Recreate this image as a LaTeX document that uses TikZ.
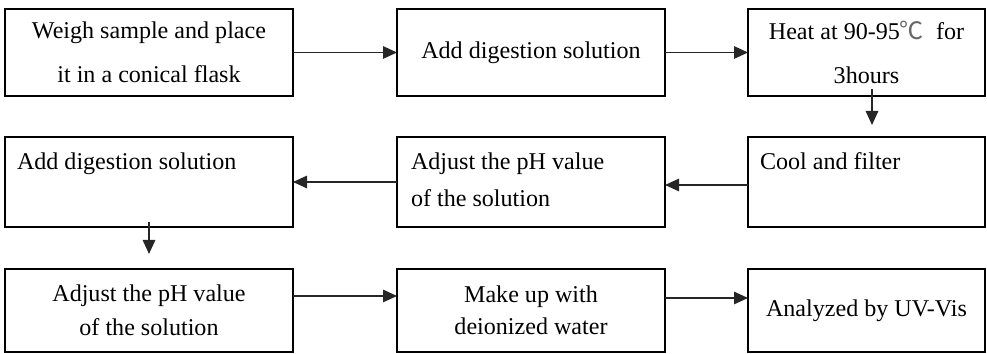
\documentclass[tikz,border=0pt]{standalone}
\usepackage{fontspec}
\setmainfont{Liberation Serif}
\newfontfamily\cjkfont{Noto Sans CJK SC}
\usetikzlibrary{arrows.meta}
\begin{document}
\begin{tikzpicture}[inner sep=0pt,outer sep=0pt,
>={Triangle[length=0.28cm,width=0.25cm]},
stepbox/.style={draw,rectangle,line width=1.1pt,align=center,font=\fontsize{13.7}{18}\selectfont},
toptext/.style={anchor=north west,inner sep=0pt,align=left,font=\fontsize{13.7}{18}\selectfont},
flow/.style={->,line width=0.8pt,black!85}]
\useasboundingbox (0,0) rectangle (19.74,-7.08);
% first row
\draw (2.98,-1.05) node[stepbox,minimum width=5.76cm,minimum height=1.74cm] (weigh) {Weigh sample and place\\[7pt]it in a conical flask};
\draw (10.62,-1.05) node[stepbox,minimum width=5.36cm,minimum height=1.74cm] (digest) {Add digestion solution};
\draw (17.33,-1.05) node[stepbox,minimum width=4.74cm,minimum height=1.74cm] (heat) {Heat at 90-95{\cjkfont\color{black!60}℃}\ \ for\\[7pt]3hours};
% second row
\draw (17.33,-3.64) node[stepbox,minimum width=4.74cm,minimum height=1.80cm] (cool) {};
\draw (10.62,-3.64) node[stepbox,minimum width=5.36cm,minimum height=1.80cm] (adjust) {};
\draw (2.98,-3.64) node[stepbox,minimum width=5.76cm,minimum height=1.80cm] (digestb) {};
\node[toptext] (cooltext) at ([xshift=0.24cm,yshift=-0.31cm]cool.north west) {Cool and filter};
\node[toptext] (adjusttext) at ([xshift=0.28cm,yshift=-0.31cm]adjust.north west) {Adjust the pH value\\[3pt]of the solution};
\node[toptext] (digestbtext) at ([xshift=0.24cm,yshift=-0.31cm]digestb.north west) {Add digestion solution};
% third row
\draw (2.98,-6.21) node[stepbox,minimum width=5.76cm,minimum height=1.66cm] (adjustb) {Adjust the pH value\\[1.5pt]of the solution};
\draw (10.62,-6.21) node[stepbox,minimum width=5.36cm,minimum height=1.66cm] (makeup) {\raisebox{-7pt}{\parbox{4cm}{\centering Make up with\\[0pt]deionized water}}};
\draw (17.33,-6.21) node[stepbox,minimum width=4.74cm,minimum height=1.66cm] (uvvis) {Analyzed by UV-Vis};
% arrows
\draw[flow] (weigh.east) -- (digest.west);
\draw[flow] (digest.east) -- (heat.west);
\draw[flow] ([xshift=0.11cm,yshift=0.14cm]heat.south) -- ([xshift=0.11cm,yshift=0.24cm]cool.north);
\draw[flow] ([yshift=-0.06cm]cool.west) -- ([yshift=-0.06cm]adjust.east);
\draw[flow] (adjust.west) -- (digestb.east);
\draw[flow] ([yshift=0.1cm]digestb.south) -- ([yshift=0.3cm]adjustb.north);
\draw[flow] ([yshift=0.29cm]adjustb.east) -- ([yshift=0.29cm]makeup.west);
\draw[flow] ([yshift=0.25cm]makeup.east) -- ([yshift=0.25cm]uvvis.west);
\end{tikzpicture}
\end{document}
